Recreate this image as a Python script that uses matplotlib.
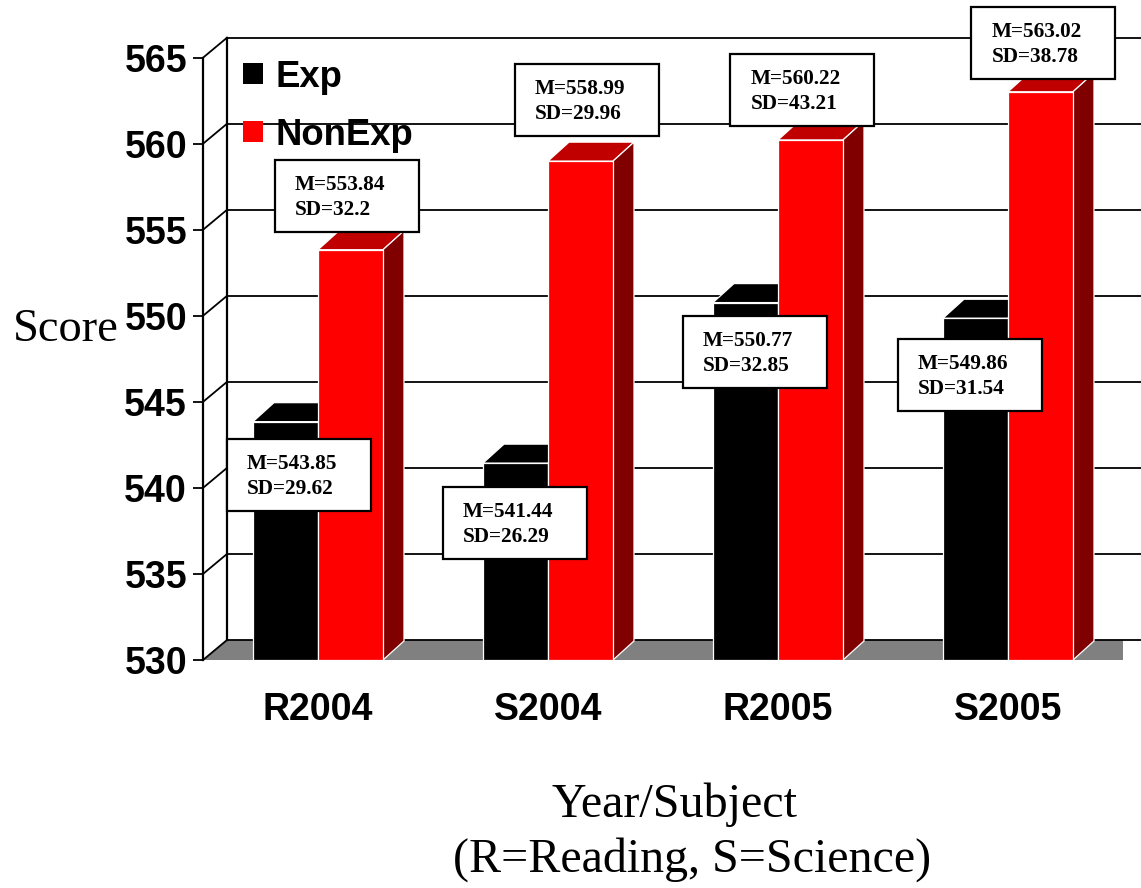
import matplotlib
matplotlib.use("Agg")
import matplotlib.pyplot as plt
import numpy as np
from matplotlib import font_manager, transforms
from matplotlib.patches import Polygon, Rectangle

# ---- data ----
categories = ["R2004", "S2004", "R2005", "S2005"]
series_names = ["Exp", "NonExp"]
exp_mean = [543.85, 541.44, 550.77, 549.86]
exp_sd = [29.62, 26.29, 32.85, 31.54]
nonexp_mean = [553.84, 558.99, 560.22, 563.02]
nonexp_sd = [32.2, 29.96, 43.21, 38.78]
y_ticks = [530, 535, 540, 545, 550, 555, 560, 565]

# ---- layout (pixels) ----
W, H, DPI = 1141, 888, 100
LEFT, RIGHT, TOP, BOTTOM = 203, 1123, 57.7, 660      # front plane of the plot box
WALL_DEPTH = (24, 20)                                  # back wall offset (right, up)
BAR_DEPTH = (21, 19)                                   # bar depth offset (right, up)
BAR_W = 0.2826                                         # bar width in category units
# stat box centre relative to the bar's top-front centre (right, down)
exp_box_offsets = [(13.5, 53), (-0.5, 60), (9, 49), (-5.5, 57)]
nonexp_box_offsets = [(-3.5, -53.4), (6.5, -61.3), (-8, -49.7), (3, -49)]
BOX_W, BOX_H = 144, 72

COL_EXP = {"front": "#000000", "top": "#000000", "side": "#000000"}
COL_NON = {"front": "#FF0000", "top": "#C00000", "side": "#800000"}
FLOOR = "#808080"

names = {f.name for f in font_manager.fontManager.ttflist}
if "Liberation Sans Narrow" in names:
    AXIS_FONT, AXIS_SIZE = "Liberation Sans Narrow", 31
else:
    AXIS_FONT, AXIS_SIZE = "Liberation Sans", 27
SERIF = "Liberation Serif"
SANS = "Liberation Sans"

fig = plt.figure(figsize=(W / DPI, H / DPI), dpi=DPI)
fig.patch.set_facecolor("white")
ax = fig.add_axes([LEFT / W, 1 - BOTTOM / H, (RIGHT - LEFT) / W, (BOTTOM - TOP) / H])
ymin, ymax = y_ticks[0], y_ticks[-1]
n = len(categories)
ax.set_xlim(0, n)
ax.set_ylim(ymin, ymax)
ax.patch.set_visible(False)

ux = n / (RIGHT - LEFT)
uy = (ymax - ymin) / (BOTTOM - TOP)
wdx, wdy = WALL_DEPTH[0] * ux, WALL_DEPTH[1] * uy
bdx, bdy = BAR_DEPTH[0] * ux, BAR_DEPTH[1] * uy

# ---- walls and floor ----
ax.add_patch(Polygon([(0, ymin), (n, ymin), (n + wdx, ymin + wdy), (wdx, ymin + wdy)],
                     closed=True, facecolor=FLOOR, edgecolor="none", zorder=2))
for t in y_ticks:
    ax.plot([wdx, n + wdx + 0.2], [t + wdy, t + wdy], color="black", lw=1.3,
            zorder=2.5, clip_on=False, solid_capstyle="butt")
    ax.plot([0, wdx], [t, t + wdy], color="black", lw=1.3, zorder=2.5, clip_on=False)
ax.plot([wdx, wdx], [ymin + wdy, ymax + wdy], color="black", lw=1.6, zorder=2.5,
        clip_on=False)

# ---- bars ----
x = np.arange(n)
exp_x = x + 0.5 - BAR_W / 2
non_x = x + 0.5 + BAR_W / 2


def bar_faces(xc, v, cols, z):
    x0, x1 = xc - BAR_W / 2, xc + BAR_W / 2
    top = [(x0, v), (x1, v), (x1 + bdx, v + bdy), (x0 + bdx, v + bdy)]
    side = [(x1, ymin), (x1, v), (x1 + bdx, v + bdy), (x1 + bdx, ymin + bdy)]
    ax.add_patch(Polygon(top, closed=True, facecolor=cols["top"], edgecolor="white",
                         lw=0.9, zorder=z, clip_on=False))
    ax.add_patch(Polygon(side, closed=True, facecolor=cols["side"], edgecolor="white",
                         lw=0.9, zorder=z, clip_on=False))


for i in range(n):
    bar_faces(exp_x[i], exp_mean[i], COL_EXP, 4)
    bar_faces(non_x[i], nonexp_mean[i], COL_NON, 5)

ax.bar(exp_x, np.array(exp_mean) - ymin, bottom=ymin, width=BAR_W,
       color=COL_EXP["front"], edgecolor="white", lw=0.9, zorder=4.5, clip_on=False)
ax.bar(non_x, np.array(nonexp_mean) - ymin, bottom=ymin, width=BAR_W,
       color=COL_NON["front"], edgecolor="white", lw=0.9, zorder=5.5, clip_on=False)


# ---- mean / SD boxes ----
def stat_box(xc, v, off, m, sd):
    tr = fig.dpi_scale_trans + transforms.ScaledTranslation(xc, v, ax.transData)
    cx, cy = off[0] / DPI, -off[1] / DPI
    bw, bh = BOX_W / DPI, BOX_H / DPI
    ax.add_patch(Rectangle((cx - bw / 2, cy - bh / 2), bw, bh, transform=tr,
                           facecolor="white", edgecolor="black", lw=1.6,
                           zorder=10, clip_on=False))
    tx = cx - bw / 2 + 20 / DPI
    ax.text(tx, cy + bh / 2 - 30 / DPI, f"M={m}", transform=tr, ha="left",
            va="baseline", fontsize=15.3, fontweight="bold", family=SERIF, zorder=11)
    ax.text(tx, cy + bh / 2 - 55 / DPI, f"SD={sd}", transform=tr, ha="left",
            va="baseline", fontsize=15.3, fontweight="bold", family=SERIF, zorder=11)


for i in range(n):
    stat_box(exp_x[i], exp_mean[i], exp_box_offsets[i], exp_mean[i], exp_sd[i])
    stat_box(non_x[i], nonexp_mean[i], nonexp_box_offsets[i], nonexp_mean[i], nonexp_sd[i])

# ---- axes ----
for s in ("top", "right", "bottom"):
    ax.spines[s].set_visible(False)
ax.spines["left"].set_linewidth(1.6)
ax.set_yticks(y_ticks)
ax.set_yticklabels([str(t) for t in y_ticks], fontsize=AXIS_SIZE, fontweight="bold",
                   family=AXIS_FONT)
ax.tick_params(axis="y", length=7.2, width=1.3, pad=4.3)
ax.set_xticks(x + 0.5)
ax.set_xticklabels(categories, fontsize=AXIS_SIZE, fontweight="bold", family=AXIS_FONT)
ax.tick_params(axis="x", length=0, pad=23)

ax.set_ylabel("Score", rotation=0, ha="left", va="baseline", fontsize=33.5, family=SERIF)
ax.yaxis.set_label_coords((13 - LEFT) / (RIGHT - LEFT), (BOTTOM - 341) / (BOTTOM - TOP))

fig.text(675 / W, 1 - 817 / H, "Year/Subject", ha="center", va="baseline",
         fontsize=34.6, family=SERIF)
fig.text(692 / W, 1 - 872 / H, "(R=Reading, S=Science)", ha="center", va="baseline",
         fontsize=34.6, family=SERIF)

# ---- legend ----
legend_rows = [(COL_EXP["front"], series_names[0], 63, 87),
               (COL_NON["front"], series_names[1], 121, 145)]
for col, name, sq_top, base in legend_rows:
    fig.add_artist(Rectangle((243 / W, 1 - (sq_top + 21) / H), 20 / W, 21 / H,
                             transform=fig.transFigure, facecolor=col, edgecolor="none"))
    fig.text(275 / W, 1 - base / H, name, ha="left", va="baseline", fontsize=26.3,
             fontweight="bold", family=SANS)

fig.savefig("out.png", dpi=DPI, facecolor="white")
